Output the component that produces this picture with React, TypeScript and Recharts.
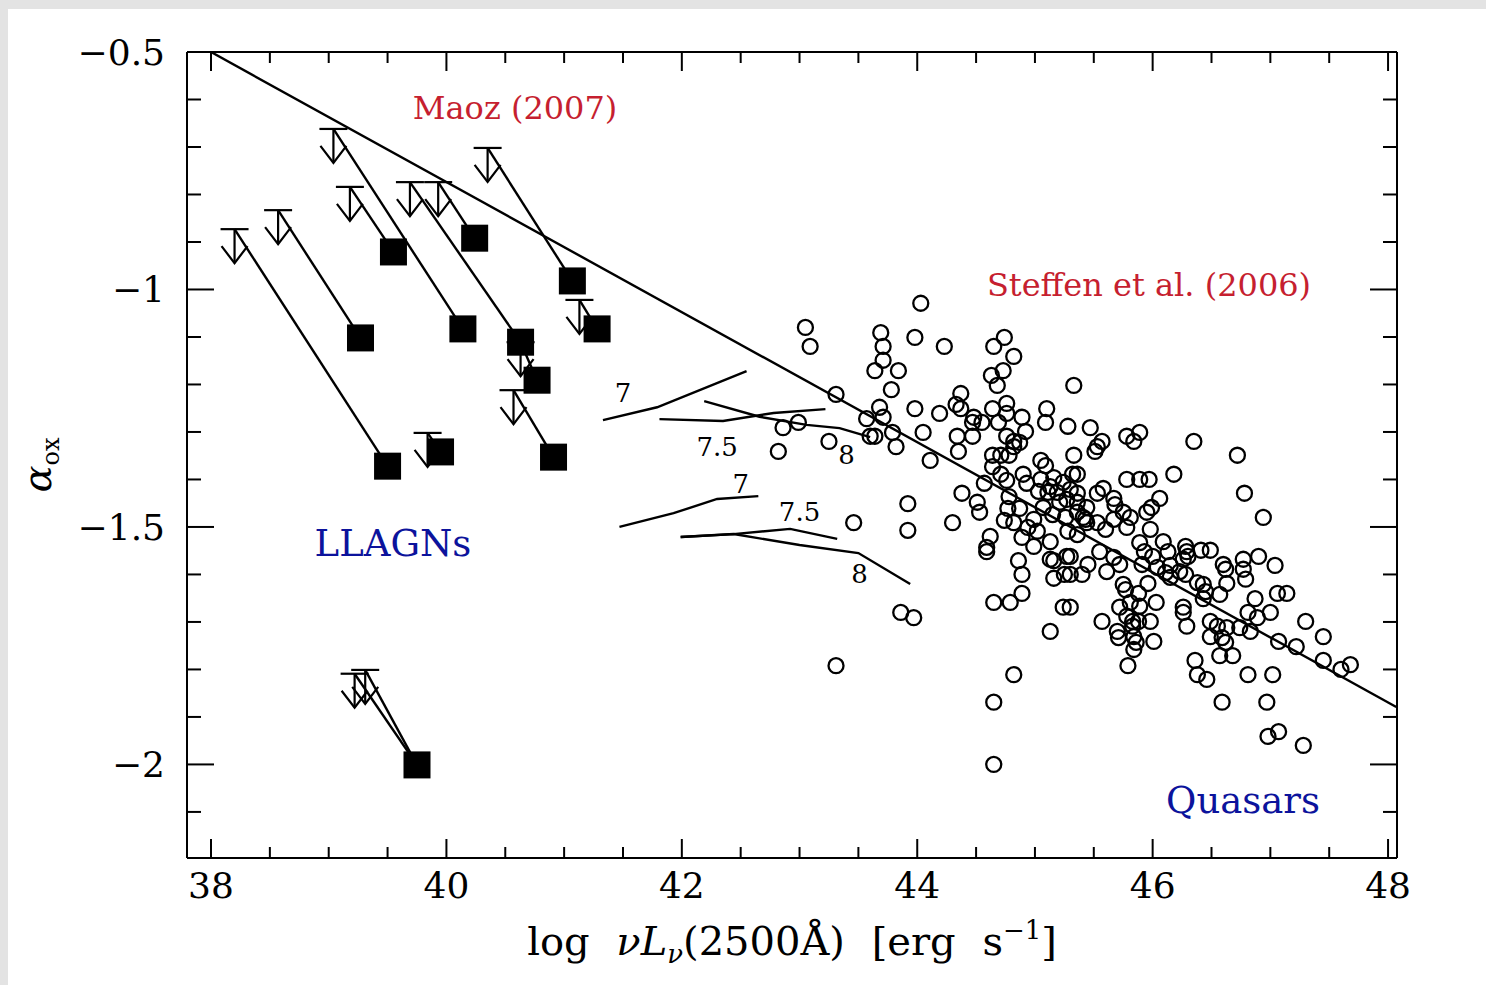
import React from "react";
import { ScatterChart, Scatter, XAxis, YAxis, Label } from "recharts";

// axis ranges
const X_DOMAIN: [number, number] = [37.796, 48.076];
const Y_DOMAIN: [number, number] = [-2.197, -0.5];

const xMajor = [38, 40, 42, 44, 46, 48];
const xMinor = [38.5, 39, 39.5, 40.5, 41, 41.5, 42.5, 43, 43.5, 44.5, 45, 45.5, 46.5, 47, 47.5];
const yMajor = [-2, -1.5, -1, -0.5];
const yMinor = [-2.1, -1.9, -1.8, -1.7, -1.6, -1.4, -1.3, -1.2, -1.1, -0.9, -0.8, -0.7, -0.6];
const xAll = [...xMajor, ...xMinor].sort((a, b) => a - b);

// Steffen et al. (2006) quasars: [log L, alpha_ox]
const quasars: [number, number][] = [
  [44.03, -1.029], [43.05, -1.08], [43.09, -1.12], [43.69, -1.091], [43.71, -1.12], [43.71, -1.149],
  [43.64, -1.171], [43.84, -1.171], [43.98, -1.101], [44.23, -1.12], [44.65, -1.12], [44.63, -1.181],
  [44.68, -1.202], [43.78, -1.211], [43.31, -1.221], [44.37, -1.219], [44.33, -1.242], [44.37, -1.251],
  [43.68, -1.248], [43.98, -1.251], [44.19, -1.261], [43.71, -1.269], [43.57, -1.272], [44.64, -1.251],
  [44.48, -1.269], [44.47, -1.28], [44.55, -1.28], [44.69, -1.28], [42.99, -1.28], [42.86, -1.291],
  [44.05, -1.301], [43.79, -1.301], [43.6, -1.309], [43.64, -1.309], [44.34, -1.309], [44.47, -1.309],
  [43.25, -1.32], [43.82, -1.331], [44.35, -1.341], [42.82, -1.341], [44.11, -1.36], [44.64, -1.349],
  [44.64, -1.373], [44.57, -1.408], [44.38, -1.429], [43.92, -1.451], [44.51, -1.448], [44.53, -1.469],
  [43.46, -1.491], [44.3, -1.491], [43.92, -1.507], [44.62, -1.52], [44.59, -1.543], [44.59, -1.552],
  [44.65, -1.659], [43.86, -1.68], [43.97, -1.691], [43.31, -1.792], [44.65, -1.869], [44.65, -2.0],
  [44.74, -1.101], [44.82, -1.141], [44.73, -1.171], [44.76, -1.24], [44.76, -1.261], [44.89, -1.269],
  [45.1, -1.251], [45.09, -1.28], [45.28, -1.288], [44.92, -1.299], [44.76, -1.309], [44.82, -1.32],
  [44.87, -1.322], [44.82, -1.331], [44.71, -1.349], [44.78, -1.349], [45.05, -1.36], [45.09, -1.371],
  [44.71, -1.389], [44.76, -1.402], [44.9, -1.389], [44.93, -1.408], [45.05, -1.4], [45.13, -1.415],
  [45.24, -1.406], [45.03, -1.425], [45.11, -1.427], [44.78, -1.436], [44.77, -1.461], [44.87, -1.461],
  [45.07, -1.459], [45.21, -1.448], [44.74, -1.486], [44.82, -1.491], [44.99, -1.484], [44.94, -1.501],
  [44.89, -1.522], [45.02, -1.509], [44.99, -1.541], [45.13, -1.531], [45.28, -1.509], [44.86, -1.571],
  [44.89, -1.6], [45.16, -1.571], [45.27, -1.562], [45.16, -1.608], [45.25, -1.6], [44.89, -1.64],
  [44.79, -1.659], [45.24, -1.669], [45.13, -1.72], [44.82, -1.811], [45.19, -1.427], [45.27, -1.442],
  [45.13, -1.568], [45.16, -1.396], [45.3, -1.421], [45.15, -1.474], [45.26, -1.48],
  [45.33, -1.202], [45.47, -1.291], [45.78, -1.309], [45.89, -1.301], [45.84, -1.32], [45.57, -1.32],
  [45.53, -1.331], [45.51, -1.341], [46.35, -1.32], [46.72, -1.349], [45.33, -1.349], [45.32, -1.389],
  [46.18, -1.389], [45.78, -1.4], [45.89, -1.4], [45.97, -1.4], [46.78, -1.429], [46.94, -1.48],
  [46.06, -1.44], [45.99, -1.459], [45.95, -1.469], [45.58, -1.419], [45.53, -1.429], [45.67, -1.44],
  [45.68, -1.453], [45.75, -1.469], [45.81, -1.48], [45.67, -1.484], [45.44, -1.459], [45.36, -1.429],
  [45.36, -1.469], [45.43, -1.484], [45.98, -1.505], [45.78, -1.501], [45.6, -1.505], [45.36, -1.389],
  [45.36, -1.448], [45.41, -1.48], [45.44, -1.491], [45.53, -1.491],
  [46.9, -1.562], [47.04, -1.581], [47.06, -1.64], [47.14, -1.64], [47.3, -1.699], [47.45, -1.731],
  [46.87, -1.651], [47.0, -1.68], [46.81, -1.68], [46.89, -1.691], [46.77, -1.568], [46.77, -1.589],
  [46.79, -1.61], [46.6, -1.579], [46.62, -1.589], [46.63, -1.619], [46.57, -1.642], [46.43, -1.621],
  [46.45, -1.636], [46.43, -1.651], [46.49, -1.549], [46.41, -1.549], [46.28, -1.541], [46.29, -1.552],
  [46.3, -1.562], [46.15, -1.581], [46.13, -1.552], [46.26, -1.669], [46.26, -1.68], [46.29, -1.709],
  [46.49, -1.699], [46.55, -1.709], [46.63, -1.712], [46.49, -1.731], [46.59, -1.733], [46.62, -1.743],
  [46.57, -1.771], [46.68, -1.771], [46.74, -1.712], [46.83, -1.72], [47.07, -1.741], [47.22, -1.752],
  [47.45, -1.781], [47.6, -1.8], [47.68, -1.79], [46.36, -1.781], [46.38, -1.811], [46.46, -1.821],
  [46.81, -1.811], [47.02, -1.811], [46.59, -1.869], [46.97, -1.869], [46.98, -1.941], [47.07, -1.931],
  [47.28, -1.96],
  [45.57, -1.699], [45.7, -1.72], [45.71, -1.733], [45.79, -1.792], [45.84, -1.758], [45.86, -1.743],
  [45.84, -1.731], [46.01, -1.741], [45.98, -1.699], [45.88, -1.699], [45.83, -1.699], [45.72, -1.669],
  [45.81, -1.659], [45.89, -1.667], [46.03, -1.659], [45.96, -1.619], [45.88, -1.64], [45.75, -1.621],
  [45.77, -1.632], [45.72, -1.579], [45.67, -1.564], [45.61, -1.594], [45.55, -1.552], [45.45, -1.579],
  [45.4, -1.6], [45.3, -1.6], [45.3, -1.562], [45.36, -1.516], [45.89, -1.533], [45.93, -1.552],
  [46.0, -1.562], [46.09, -1.531], [45.91, -1.579], [46.04, -1.585], [46.15, -1.606], [46.23, -1.594],
  [46.28, -1.6], [46.38, -1.617], [45.3, -1.669], [45.78, -1.688], [45.83, -1.709], [46.11, -1.596],
  [46.26, -1.568],
];

// Maoz (2007) LLAGNs: detections (filled squares)
const detections: [number, number][] = [
  [39.55, -0.921], [40.24, -0.892], [41.07, -0.982], [39.27, -1.102], [40.14, -1.083], [40.63, -1.111],
  [41.28, -1.083], [40.77, -1.191], [39.5, -1.372], [39.95, -1.342], [40.91, -1.353], [39.75, -2.001],
];

// upper limits (arrows) and the detection each one is joined to
const upperLimits: [number, number][] = [
  [39.04, -0.662], [40.35, -0.702], [39.18, -0.784], [39.69, -0.774], [39.93, -0.774], [38.57, -0.833],
  [38.2, -0.873], [41.13, -1.022], [40.63, -1.111], [40.57, -1.212], [39.84, -1.302], [39.22, -1.809],
  [39.31, -1.801],
];
const limitToDetection = [4, 2, 0, 5, 1, 3, 8, 6, 7, 10, 9, 11, 11];

const steffenFit: [number, number][] = [[38, -0.5], [48.07, -1.879]];

// model tracks
const upper7: [number, number][] = [[41.33, -1.275], [41.79, -1.248], [42.55, -1.172]];
const upper75: [number, number][] = [[41.81, -1.273], [42.35, -1.277], [42.78, -1.26], [43.22, -1.252]];
const upper8: [number, number][] = [[42.19, -1.235], [42.66, -1.268], [43.06, -1.285], [43.34, -1.292], [43.6, -1.311]];
const lower7: [number, number][] = [[41.47, -1.5], [41.93, -1.471], [42.3, -1.441], [42.65, -1.435]];
const lower75: [number, number][] = [[41.99, -1.521], [42.44, -1.515], [42.92, -1.504], [43.32, -1.525]];
const lower8: [number, number][] = [[41.99, -1.521], [42.44, -1.515], [43.0, -1.538], [43.5, -1.555], [43.94, -1.62]];
const modelTracks = [upper7, upper75, upper8, lower7, lower75, lower8];

const modelLabels = [
  { x: 41.5, y: -1.218, text: "7" },
  { x: 42.3, y: -1.332, text: "7.5" },
  { x: 43.4, y: -1.348, text: "8" },
  { x: 42.5, y: -1.409, text: "7" },
  { x: 43.0, y: -1.468, text: "7.5" },
  { x: 43.51, y: -1.599, text: "8" },
];

const redNotes = [
  { x: 40.583, y: -0.618, text: "Maoz (2007)" },
  { x: 45.969, y: -0.991, text: "Steffen et al. (2006)" },
];
const blueNotes = [
  { x: 39.546, y: -1.534, text: "LLAGNs" },
  { x: 46.768, y: -2.075, text: "Quasars" },
];

const RED = "#c61f30";
const BLUE = "#0c139c";
const SERIF = "'DejaVu Serif', 'Liberation Serif', serif";

const toPts = (arr: [number, number][]) => arr.map(([x, y]) => ({ x, y }));

const OpenCircle = (p: any) =>
  p.cx == null ? <g /> : <circle cx={p.cx} cy={p.cy} r={7.5} fill="none" stroke="#000" strokeWidth={2.3} />;

const FilledSquare = (p: any) =>
  p.cx == null ? <g /> : <rect x={p.cx - 13.5} y={p.cy - 13.5} width={27} height={27} fill="#000" />;

const LimitArrow = (p: any) => {
  if (p.cx == null) return <g />;
  const { cx, cy } = p;
  return (
    <g stroke="#000" strokeWidth={2.2} fill="none">
      <line x1={cx - 14} x2={cx + 14} y1={cy} y2={cy} />
      <line x1={cx} x2={cx} y1={cy} y2={cy + 34} />
      <polyline points={`${cx - 13},${cy + 17} ${cx},${cy + 34} ${cx + 13},${cy + 17}`} />
    </g>
  );
};

const NoDot = () => <g />;
const NoTick = () => <g />;

const textShape = (size: number, color: string) => (p: any) =>
  p.cx == null ? (
    <g />
  ) : (
    <text x={p.cx} y={p.cy} textAnchor="middle" dominantBaseline="central" fontSize={size} fontFamily={SERIF} fill={color}>
      {p.payload.text}
    </text>
  );

const fmt = (v: number) => (v < 0 ? `\u2212${Math.abs(v)}` : `${v}`);

// x ticks: inward marks, long at the labelled values
const xTick = (side: "bottom" | "top") => (props: any) => {
  const { x, y, payload } = props;
  const v = payload.value;
  const major = xMajor.includes(v);
  const len = major ? 19 : 11;
  const dir = side === "bottom" ? -1 : 1;
  return (
    <g>
      <line x1={x} x2={x} y1={y} y2={y + dir * len} stroke="#000" strokeWidth={2} />
      {side === "bottom" && major && (
        <text x={x} y={y + 40} textAnchor="middle" fontSize={36} fontFamily={SERIF} fill="#000">
          {fmt(v)}
        </text>
      )}
    </g>
  );
};

const XTitle = (props: any) => {
  const vb = props.viewBox || {};
  const cx = vb.x + vb.width / 2;
  const y = vb.y + 97;
  return (
    <text x={cx} y={y} textAnchor="middle" fontSize={40} fontFamily={SERIF} fill="#000" wordSpacing={14}>
      log <tspan fontStyle="italic">νL</tspan>
      <tspan fontSize={26} fontStyle="italic" dy={8}>ν</tspan>
      <tspan dy={-8}>(2500Å) [erg s</tspan>
      <tspan fontSize={26} dy={-16}>−1</tspan>
      <tspan dy={16}>]</tspan>
    </text>
  );
};

const YTitle = (props: any) => {
  const vb = props.viewBox || {};
  const x = vb.x - 135;
  const y = vb.y + vb.height / 2 + 10;
  return (
    <text x={x} y={y} transform={`rotate(-90 ${x} ${y})`} textAnchor="middle" fontSize={40} fontFamily={SERIF} fill="#000">
      <tspan fontStyle="italic">α</tspan>
      <tspan fontSize={24} dy={8}>ox</tspan>
    </text>
  );
};

const tickFont = { fontSize: 36, fontFamily: SERIF, fill: "#000" };
const frame = { stroke: "#000", strokeWidth: 2 };
const trace = { stroke: "#000", strokeWidth: 2.4 };

export default function App() {
  return (
    <div style={{ position: "fixed", left: 0, top: 0, width: 1486, height: 985, background: "#e3e3e3" }}>
      <div style={{ position: "absolute", left: 8, top: 9, width: 1478, height: 976, background: "#fff" }}>
        <ScatterChart width={1478} height={976} margin={{ top: 42, right: 87, bottom: 126, left: 177 }}>
          <XAxis
            xAxisId="x" type="number" dataKey="x" domain={X_DOMAIN} allowDataOverflow
            ticks={xAll} interval={0} tickSize={0} tickMargin={0} height={1}
            axisLine={frame} tickLine={false} tick={xTick("bottom")}
          >
            <Label content={XTitle} />
          </XAxis>
          <XAxis xAxisId="xt" orientation="top" type="number" dataKey="x" domain={X_DOMAIN} allowDataOverflow
            ticks={xAll} interval={0} tickSize={0} tickMargin={0} height={1}
            axisLine={frame} tickLine={false} tick={xTick("top")} />
          <YAxis
            yAxisId="y" type="number" dataKey="y" domain={Y_DOMAIN} allowDataOverflow
            ticks={yMajor} interval={0} tickSize={-27} tickMargin={49} width={1}
            axisLine={frame} tickLine={frame} tick={tickFont} tickFormatter={fmt}
          >
            <Label content={YTitle} />
          </YAxis>
          <YAxis yAxisId="ym" type="number" domain={Y_DOMAIN} allowDataOverflow ticks={yMinor} interval={0}
            tickSize={-15} width={1} axisLine={false} tickLine={frame} tick={NoTick} />
          <YAxis yAxisId="yr" orientation="right" type="number" domain={Y_DOMAIN} allowDataOverflow ticks={yMajor}
            interval={0} tickSize={-27} width={1} axisLine={frame} tickLine={frame} tick={NoTick} />
          <YAxis yAxisId="yrm" orientation="right" type="number" domain={Y_DOMAIN} allowDataOverflow ticks={yMinor}
            interval={0} tickSize={-15} width={1} axisLine={false} tickLine={frame} tick={NoTick} />

          {/* invisible series so the top axis gets the same scale */}
          <Scatter xAxisId="xt" yAxisId="y" data={toPts(steffenFit)} shape={NoDot} isAnimationActive={false} />

          <Scatter xAxisId="x" yAxisId="y" data={toPts(steffenFit)} line={trace}
            shape={NoDot} isAnimationActive={false} />
          {modelTracks.map((track, i) => (
            <Scatter key={`track-${i}`} xAxisId="x" yAxisId="y" data={toPts(track)}
              line={trace} shape={NoDot} isAnimationActive={false} />
          ))}
          {upperLimits.map((lim, i) => (
            <Scatter key={`link-${i}`} xAxisId="x" yAxisId="y" data={toPts([lim, detections[limitToDetection[i]]])}
              line={trace} shape={NoDot} isAnimationActive={false} />
          ))}
          <Scatter xAxisId="x" yAxisId="y" data={toPts(quasars)} shape={OpenCircle} isAnimationActive={false} />
          <Scatter xAxisId="x" yAxisId="y" data={toPts(upperLimits)} shape={LimitArrow} isAnimationActive={false} />
          <Scatter xAxisId="x" yAxisId="y" data={toPts(detections)} shape={FilledSquare} isAnimationActive={false} />
          <Scatter xAxisId="x" yAxisId="y" data={modelLabels} shape={textShape(26, "#000")} isAnimationActive={false} />
          <Scatter xAxisId="x" yAxisId="y" data={redNotes} shape={textShape(32, RED)} isAnimationActive={false} />
          <Scatter xAxisId="x" yAxisId="y" data={blueNotes} shape={textShape(37, BLUE)} isAnimationActive={false} />
        </ScatterChart>
      </div>
    </div>
  );
}
